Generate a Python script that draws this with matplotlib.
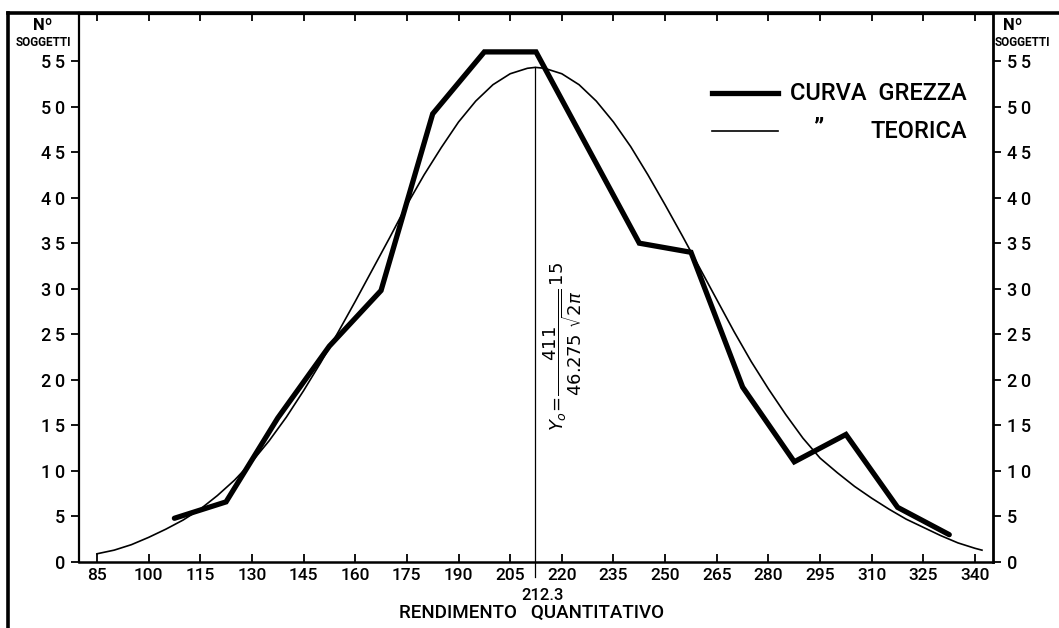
import matplotlib
matplotlib.use("Agg")
import matplotlib.pyplot as plt
from matplotlib.lines import Line2D

plt.rcParams['font.family'] = ['Roboto', 'DejaVu Sans']
plt.rcParams['font.weight'] = 'medium'

# curva grezza (class mid-points, number of subjects)
x_raw = [107.5, 122.5, 137.5, 152.5, 167.5, 182.5, 197.5, 212.5,
         227.5, 242.5, 257.5, 272.5, 287.5, 302.5, 317.5, 332.5]
y_raw = [4.8, 6.6, 15.8, 23.7, 29.8, 49.2, 56.0, 56.0,
         45.5, 35.0, 34.0, 19.2, 11.0, 14.0, 6.0, 3.0]

# curva teorica
x_teo = [85, 90, 95, 100, 105, 110, 115, 120, 125, 130, 135, 140, 145, 150,
         155, 160, 165, 170, 175, 180, 185, 190, 195, 200, 205, 210, 212.3,
         215, 220, 225, 230, 235, 240, 245, 250, 255, 260, 265, 270, 275,
         280, 285, 290, 295, 300, 305, 310, 315, 320, 325, 330, 335, 340, 342]
y_teo = [0.9, 1.3, 1.9, 2.7, 3.6, 4.6, 5.8, 7.3, 9.0, 11.0, 13.3, 15.9, 18.8, 21.9,
         25.2, 28.6, 32.1, 35.6, 39.2, 42.5, 45.5, 48.3, 50.6, 52.4, 53.6, 54.2, 54.3,
         54.2, 53.6, 52.4, 50.6, 48.3, 45.6, 42.5, 39.2, 35.8, 32.3, 28.8, 25.3, 22.0,
         19.0, 16.2, 13.6, 11.4, 9.8, 8.3, 7.0, 5.8, 4.7, 3.8, 2.9, 2.1, 1.5, 1.3]

mean_x = 212.3
peak_y = 54.3
x_ticks = list(range(85, 341, 15))
y_ticks = list(range(0, 56, 5))
y_labels = ["\u2009".join(str(v)) for v in y_ticks]

W, H = 1059, 628


def fx(px):
    return px / W


def fy(py):
    return 1 - py / H


fig = plt.figure(figsize=(W / 100, H / 100), dpi=100)
ax = fig.add_axes([fx(79), fy(562), (993 - 79) / W, (562 - 13) / H])

ax.plot(x_teo, y_teo, color='black', lw=1.2)
ax.plot(x_raw, y_raw, color='black', lw=3.8, solid_capstyle='round',
        solid_joinstyle='miter')
ax.plot([mean_x, mean_x], [-1.6, peak_y], color='black', lw=0.9, clip_on=False)

ax.set_xlim(79.8, 345.2)
ax.set_ylim(0, 60.27)
ax.set_xticks(x_ticks)
ax.set_yticks(y_ticks)
ax.set_yticklabels(y_labels)
ax.tick_params(axis='x', direction='in', top=True, bottom=True, length=6,
               width=1.3, labelsize=12.5, pad=4)
ax.tick_params(axis='y', direction='out', left=True, right=True,
               labelleft=True, labelright=True, length=6, width=1.3,
               labelsize=13, pad=4)
for s, w in [('left', 1.6), ('right', 2.0), ('top', 2.3), ('bottom', 1.8)]:
    ax.spines[s].set_linewidth(w)

# formula along the mean line
ax.text(220.2, 23.7,
        r"$Y_o\!=\!\dfrac{411}{46.275\ \sqrt{2\pi}}\,15$",
        rotation=90, ha='center', va='center', fontsize=13)

# axis captions
fig.text(fx(543), fy(596), "212.3", ha='center', va='center', fontsize=12)
fig.text(fx(532), fy(613), "RENDIMENTO   QUANTITATIVO", ha='center',
         va='center', fontsize=13.5)
for cx in (43, 1013):
    fig.text(fx(cx), fy(26), "N\u00ba", ha='center', va='center',
             fontsize=12, fontweight='bold')
fig.text(fx(43), fy(43), "SOGGETTI", ha='center', va='center',
         fontsize=8.5, fontweight='bold')
fig.text(fx(995), fy(43), "SOGGETTI", ha='left', va='center',
         fontsize=8.5, fontweight='bold')

# hand-drawn legend
fig.add_artist(Line2D([fx(712), fx(778)], [fy(93), fy(93)], color='black',
                      lw=3.8, transform=fig.transFigure))
fig.add_artist(Line2D([fx(712), fx(778)], [fy(131), fy(131)], color='black',
                      lw=1.2, transform=fig.transFigure))
fig.text(fx(967), fy(93), "CURVA  GREZZA", ha='right', va='center', fontsize=17)
fig.text(fx(818), fy(128), "\u201d", ha='center', va='center', fontsize=18,
         fontweight='bold')
fig.text(fx(967), fy(132), "TEORICA", ha='right', va='center', fontsize=17)

# outer frame of the scanned sheet
fig.add_artist(Line2D([fx(8), fx(8)], [fy(13), fy(628)], color='black',
                      lw=2.6, transform=fig.transFigure))
fig.add_artist(Line2D([fx(8), fx(1059)], [fy(13), fy(13)], color='black',
                      lw=2.6, transform=fig.transFigure))

fig.savefig("out.png", dpi=100)
